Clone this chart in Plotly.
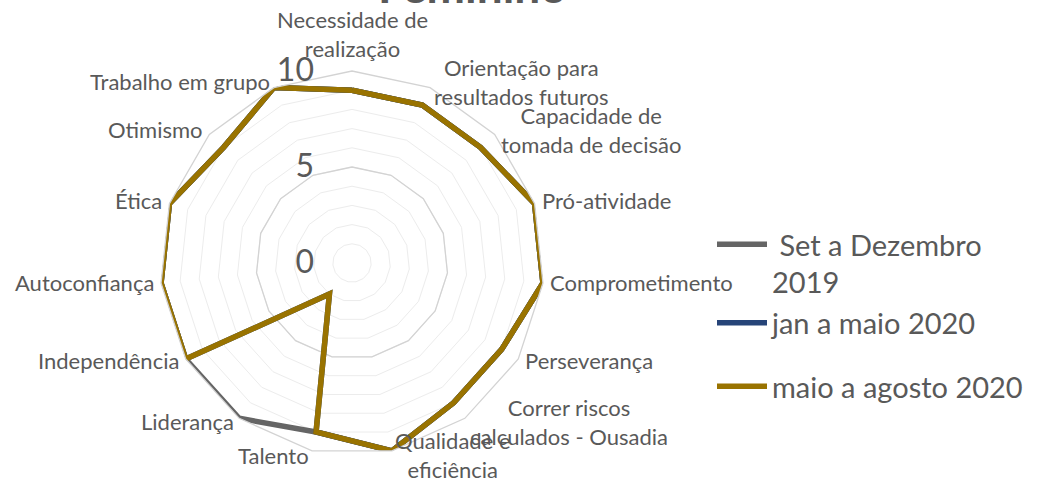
import math
import plotly.graph_objects as go

categories = [
    "Necessidade de<br>realização",
    "Orientação para<br>resultados futuros",
    "Capacidade de<br>tomada de decisão",
    "Pró-atividade",
    "Comprometimento",
    "Perseverança",
    "Correr riscos<br>calculados - Ousadia",
    "Qualidade e<br>eficiência",
    "Talento",
    "Liderança",
    "Independência",
    "Autoconfiança",
    "Ética",
    "Otimismo",
    "Trabalho em grupo",
]
set_dez_2019 = [9, 9, 9, 10, 10, 9, 9, 10, 9, 10, 10, 10, 10, 9, 10]
jan_mai_2020 = [9, 9, 9, 10, 10, 9, 9, 10, 9, 2, 10, 10, 10, 9, 10]
mai_ago_2020 = [9, 9, 9, 10, 10, 9, 9, 10, 9, 2, 10, 10, 10, 9, 10]
series_names = [" Set a Dezembro<br>2019", "jan a maio 2020", "maio a agosto 2020"]
series_legends = ["legend", "legend", "legend2"]
series_colors = ["#656565", "#264478", "#997300"]
tick_vals = list(range(0, 11))
tick_text = ["0", "", "", "", "", "5", "", "", "", "", "10"]
major_ring = 5
title_text = "Feminino"

FONT = "Lato"
TXT = "#595959"
NB = "\u00a0" * 4

W, H = 1041, 482
cx, cy, size = 352, 263, 384
PCX, PCY, PR = 352, 262, 189.5   # centre / outer radius of the polar area (px)

fig = go.Figure()

# darker major gridline at 5
fig.add_trace(go.Scatterpolar(
    r=[major_ring] * (len(categories) + 1),
    theta=categories + categories[:1],
    mode="lines", line=dict(color="#d3d3d3", width=1.3),
    showlegend=False, hoverinfo="skip",
))

for name, vals, col, lg in zip(series_names, [set_dez_2019, jan_mai_2020, mai_ago_2020],
                               series_colors, series_legends):
    fig.add_trace(go.Scatterpolar(
        r=vals + vals[:1],
        theta=categories + categories[:1],
        mode="lines", name=name, legend=lg,
        line=dict(color=col, width=5.5),
    ))

# category labels placed like the spreadsheet does (just outside the outer ring)
n = len(categories)
for i, cat in enumerate(categories):
    a = 2 * math.pi * i / n
    s, c = math.sin(a), math.cos(a)
    px = PCX + (PR + 8) * s
    py = PCY - (PR + 8) * c
    xa = "left" if s > 0.15 else ("right" if s < -0.15 else "center")
    ya = "bottom" if c > 0.95 else "middle"
    fig.add_annotation(
        text=cat, xref="paper", yref="paper",
        x=px / W, y=1 - py / H, xanchor=xa, yanchor=ya,
        showarrow=False, align="center",
        font=dict(size=22, color=TXT, family=FONT),
    )

fig.add_annotation(
    text="<b>" + title_text + "</b>", xref="paper", yref="paper",
    x=472 / W, y=1 - 15 / H, xanchor="center", yanchor="bottom",
    showarrow=False, font=dict(size=46, color=TXT, family=FONT),
)

legend_style = dict(
    xanchor="left", yanchor="top",
    font=dict(size=29, color=TXT, family=FONT),
    valign="top", itemwidth=50, bgcolor="rgba(0,0,0,0)",
)

fig.update_layout(
    width=W, height=H,
    margin=dict(l=0, r=0, t=0, b=0),
    paper_bgcolor="white",
    font=dict(family=FONT, color=TXT),
    polar=dict(
        domain=dict(x=[(cx - size / 2) / W, (cx + size / 2) / W],
                    y=[1 - (cy + size / 2) / H, 1 - (cy - size / 2) / H]),
        gridshape="linear",
        bgcolor="white",
        radialaxis=dict(
            range=[0, 10], tickvals=tick_vals,
            ticktext=[t + NB if t else t for t in tick_text],
            angle=90, tickangle=90, side="counterclockwise",
            showline=False, ticks="", gridcolor="#ececec", gridwidth=1,
            tickfont=dict(size=32, color=TXT, family=FONT),
        ),
        angularaxis=dict(
            rotation=90, direction="clockwise",
            showgrid=False, showline=True, linecolor="#d3d3d3", linewidth=1.3,
            ticks="", showticklabels=False,
        ),
    ),
    legend=dict(x=712 / W, y=1 - 219 / H, **legend_style),
    legend2=dict(x=712 / W, y=1 - 361 / H, **legend_style),
)

fig.write_html("out.html", post_script="document.body.style.margin='0';",
               config={"displayModeBar": False})
